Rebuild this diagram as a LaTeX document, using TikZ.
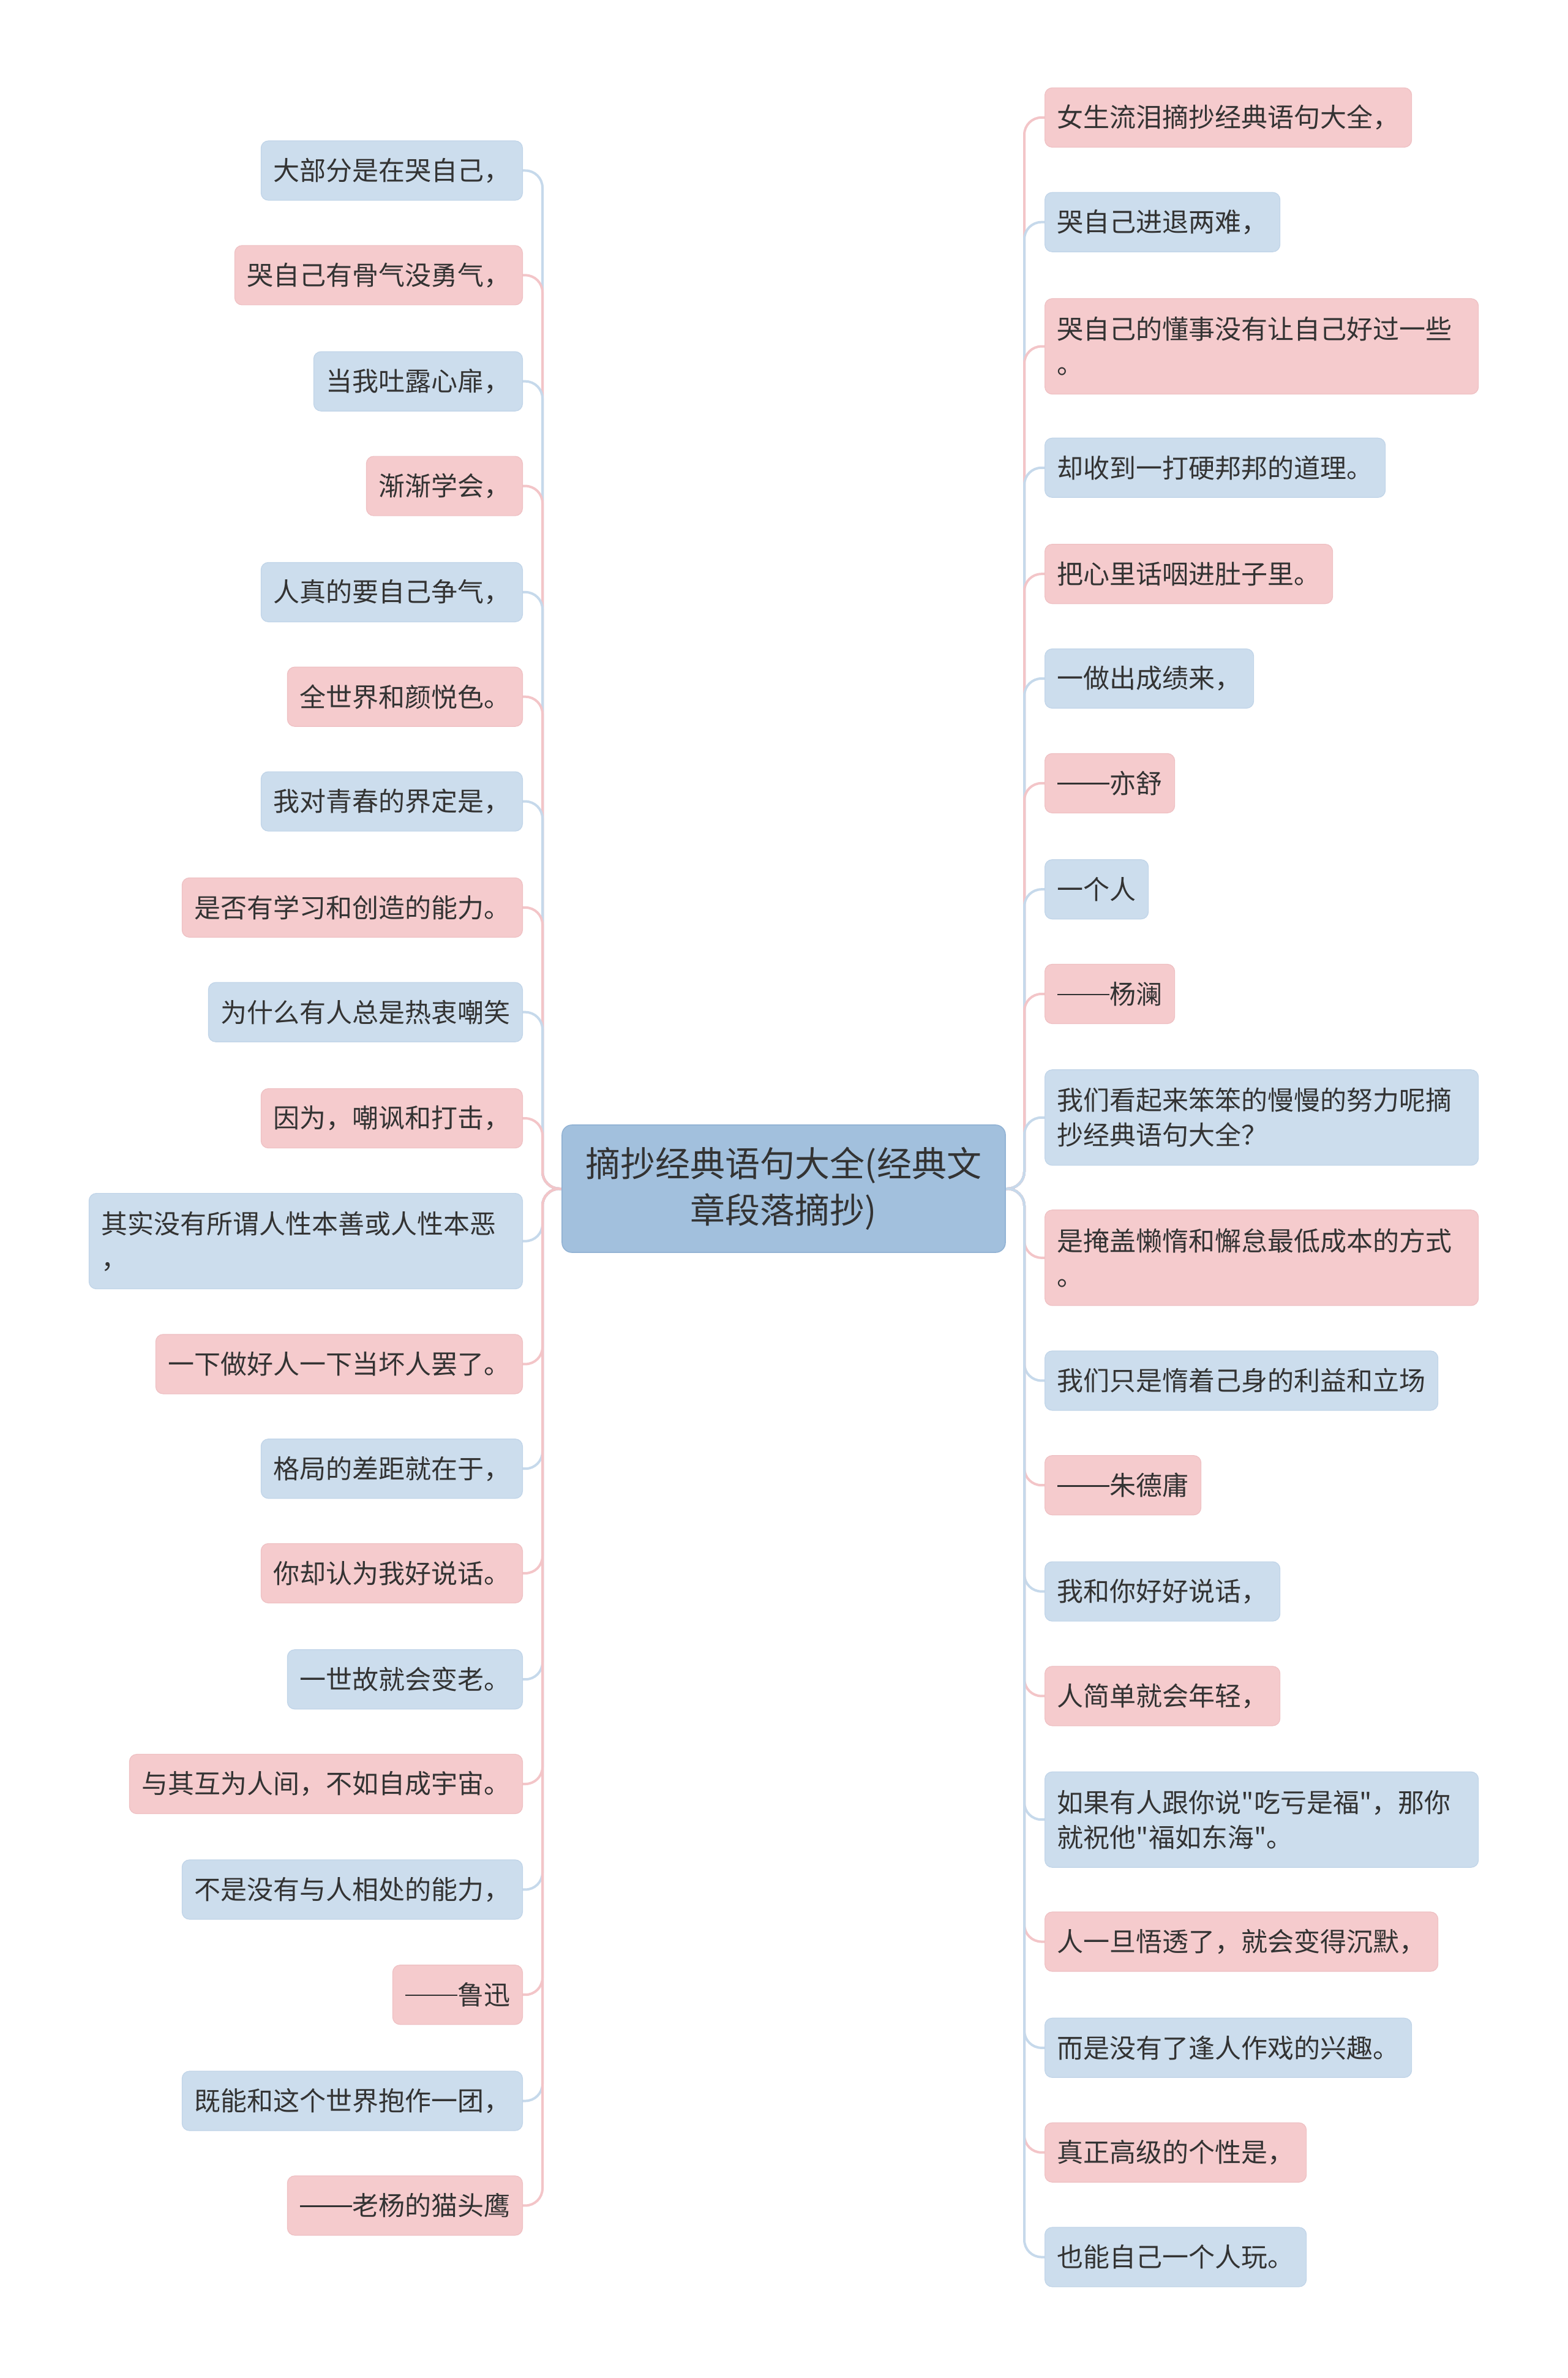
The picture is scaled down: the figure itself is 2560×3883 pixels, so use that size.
\documentclass[tikz,border=0pt]{standalone}
\usepackage{fontspec}
\setmainfont{Noto Sans CJK SC}[Ligatures=TeXOff]
\definecolor{bluefill}{HTML}{CCDDED}
\definecolor{blueedge}{HTML}{C0D4E8}
\definecolor{pinkfill}{HTML}{F5CBCD}
\definecolor{pinkedge}{HTML}{EEC0C3}
\definecolor{rootfill}{HTML}{A2C0DD}
\definecolor{rootedge}{HTML}{93B3D4}
\definecolor{blueline}{HTML}{C6D9EB}
\definecolor{pinkline}{HTML}{F3C5C8}
\definecolor{txt}{HTML}{333333}
\newcommand{\dq}{\char34\relax}
\newcommand{\dd}{\makebox[2em]{\rule[0.33em]{1.96em}{0.06em}}}
\pgfdeclarelayer{bg}
\pgfsetlayers{bg,main}
\tikzset{
  leaf/.style={rounded corners=3pt, inner xsep=5pt, inner ysep=0pt, minimum height=24.25pt,
    font=\fontsize{10.75}{14.25}\selectfont, text=txt, line width=0.3pt},
  bl/.style={leaf, fill=bluefill, draw=blueedge},
  pk/.style={leaf, fill=pinkfill, draw=pinkedge},
  two/.style={minimum height=39pt, text width=167pt, align=left},
  lft/.style={anchor=east},
  rgt/.style={anchor=west},
  rootbox/.style={rounded corners=4pt, fill=rootfill, draw=rootedge, line width=0.4pt,
    minimum width=181pt, minimum height=52pt, text width=162pt, align=center,
    font=\fontsize{14.25}{19}\selectfont, text=txt, inner sep=0pt},
  conn/.style={line width=1pt, rounded corners=7pt},
  cbl/.style={conn, draw=blueline},
  cpk/.style={conn, draw=pinkline}
}
\begin{document}
\begin{tikzpicture}[x=0.25pt, y=-0.25pt]
\useasboundingbox (0,0) rectangle (2560,3883);
\node[rootbox] (root) at (1280,1941) {摘抄经典语句大全(经典文\\章段落摘抄)};
\coordinate (tl) at (886,1941);
\coordinate (tr) at (1673,1941);
% left nodes
\node[bl,lft] (L1) at (854,278.5) {大部分是在哭自己，};
\node[pk,lft] (L2) at (854,449.4) {哭自己有骨气没勇气，};
\node[bl,lft] (L3) at (854,622.7) {当我吐露心扉，};
\node[pk,lft] (L4) at (854,793.6) {渐渐学会，};
\node[bl,lft] (L5) at (854,966.9) {人真的要自己争气，};
\node[pk,lft] (L6) at (854,1137.7) {全世界和颜悦色。};
\node[bl,lft] (L7) at (854,1308.6) {我对青春的界定是，};
\node[pk,lft] (L8) at (854,1481.9) {是否有学习和创造的能力。};
\node[bl,lft] (L9) at (854,1652.7) {为什么有人总是热衷嘲笑};
\node[pk,lft] (L10) at (854,1826.1) {因为，嘲讽和打击，};
\node[bl,lft,two] (L11) at (854,2026.6) {其实没有所谓人性本善或人性本恶\\，};
\node[pk,lft] (L12) at (854,2227.4) {一下做好人一下当坏人罢了。};
\node[bl,lft] (L13) at (854,2398.2) {格局的差距就在于，};
\node[pk,lft] (L14) at (854,2568.9) {你却认为我好说话。};
\node[bl,lft] (L15) at (854,2742.2) {一世故就会变老。};
\node[pk,lft] (L16) at (854,2913.0) {与其互为人间，不如自成宇宙。};
\node[bl,lft] (L17) at (854,3085.4) {不是没有与人相处的能力，};
\node[pk,lft] (L18) at (854,3257.2) {\dd 鲁迅};
\node[bl,lft] (L19) at (854,3430.5) {既能和这个世界抱作一团，};
\node[pk,lft] (L20) at (854,3601.4) {\dd 老杨的猫头鹰};
% right nodes
\node[pk,rgt] (R1) at (1706,191.9) {女生流泪摘抄经典语句大全，};
\node[bl,rgt] (R2) at (1706,362.7) {哭自己进退两难，};
\node[pk,rgt,two] (R3) at (1706,565.6) {哭自己的懂事没有让自己好过一些\\。};
\node[bl,rgt] (R4) at (1706,763.8) {却收到一打硬邦邦的道理。};
\node[pk,rgt] (R5) at (1706,937.2) {把心里话咽进肚子里。};
\node[bl,rgt] (R6) at (1706,1108.0) {一做出成绩来，};
\node[pk,rgt] (R7) at (1706,1278.9) {\dd 亦舒};
\node[bl,rgt] (R8) at (1706,1452.2) {一个人};
\node[pk,rgt] (R9) at (1706,1623.0) {\dd 杨澜};
\node[bl,rgt,two] (R10) at (1706,1824.8) {我们看起来笨笨的慢慢的努力呢摘\\抄经典语句大全？};
\node[pk,rgt,two] (R11) at (1706,2053.8) {是掩盖懒惰和懈怠最低成本的方式\\。};
\node[bl,rgt] (R12) at (1706,2254.4) {我们只是惰着己身的利益和立场};
\node[pk,rgt] (R13) at (1706,2425.2) {\dd 朱德庸};
\node[bl,rgt] (R14) at (1706,2598.6) {我和你好好说话，};
\node[pk,rgt] (R15) at (1706,2769.4) {人简单就会年轻，};
\node[bl,rgt,two] (R16) at (1706,2971.2) {如果有人跟你说\dq 吃亏是福\dq ，那你\\就祝他\dq 福如东海\dq 。};
\node[pk,rgt] (R17) at (1706,3170.5) {人一旦悟透了，就会变得沉默，};
\node[bl,rgt] (R18) at (1706,3343.8) {而是没有了逢人作戏的兴趣。};
\node[pk,rgt] (R19) at (1706,3514.7) {真正高级的个性是，};
\node[bl,rgt] (R20) at (1706,3685.5) {也能自己一个人玩。};
% connectors (behind nodes)
\begin{pgfonlayer}{bg}
\foreach \i/\s in {1/cbl,2/cpk,3/cbl,4/cpk,5/cbl,6/cpk,7/cbl,8/cpk,9/cbl,10/cpk,
                   11/cbl,12/cpk,13/cbl,14/cpk,15/cbl,16/cpk,17/cbl,18/cpk,19/cbl,20/cpk}
  \draw[\s] (root.west) -- (tl) -- (tl |- L\i.east) -- (L\i.east);
\foreach \i/\s in {1/cpk,2/cbl,3/cpk,4/cbl,5/cpk,6/cbl,7/cpk,8/cbl,9/cpk,10/cbl,
                   11/cpk,12/cbl,13/cpk,14/cbl,15/cpk,16/cbl,17/cpk,18/cbl,19/cpk,20/cbl}
  \draw[\s] (root.east) -- (tr) -- (tr |- R\i.west) -- (R\i.west);
\end{pgfonlayer}
\end{tikzpicture}
\end{document}
